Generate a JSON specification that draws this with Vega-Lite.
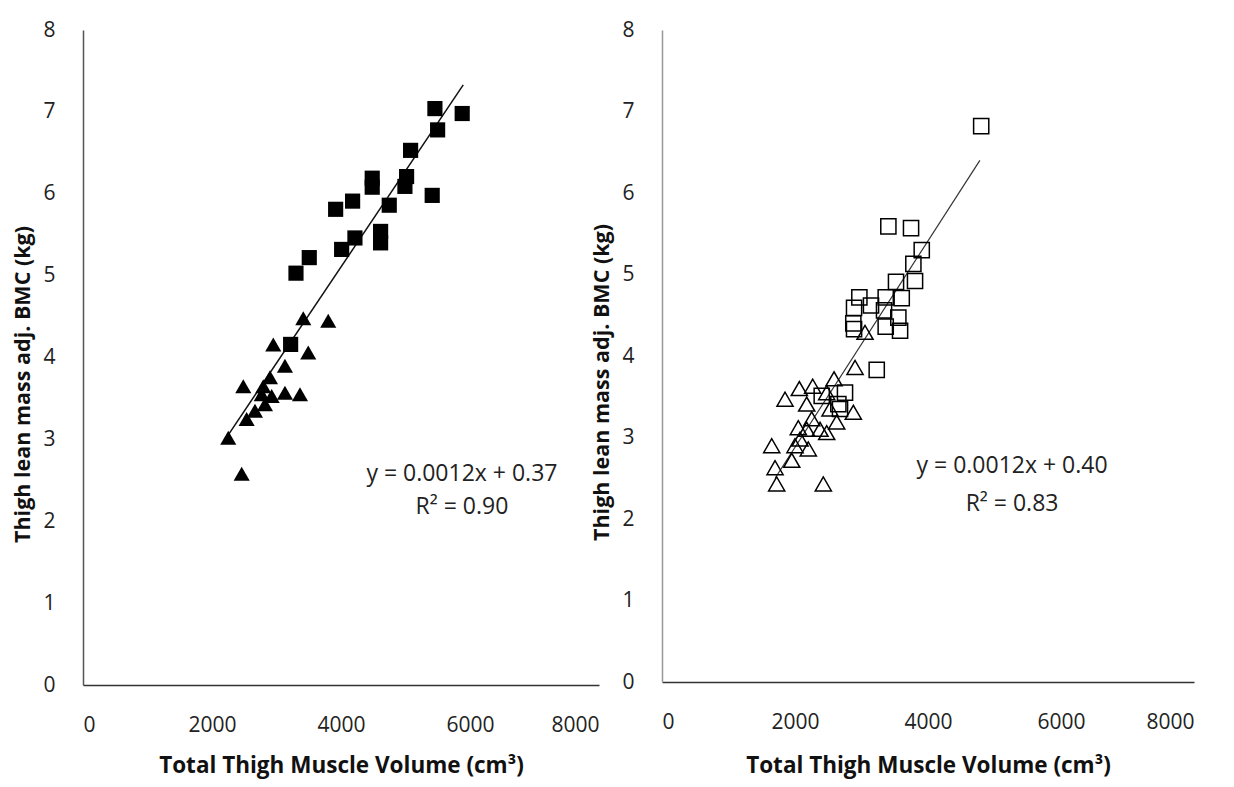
{
  "$schema": "https://vega.github.io/schema/vega-lite/v6.json",
  "background": "white",
  "padding": {"left": 12, "top": 19, "right": 6, "bottom": 5},
  "config": {
    "view": {"stroke": null},
    "axis": {
      "grid": false,
      "ticks": false,
      "tickSize": 0,
      "labelFont": "Open Sans",
      "labelFontSize": 21,
      "labelColor": "#222",
      "titleFont": "Open Sans",
      "titleFontWeight": "bold",
      "titleColor": "#111",
      "domainWidth": 1.5,
      "format": "d"
    }
  },
  "datasets": {
    "leftPts": [
      {"group": "square", "x": 5456, "y": 7.04},
      {"group": "square", "x": 5879, "y": 6.98},
      {"group": "square", "x": 5498, "y": 6.78},
      {"group": "square", "x": 5079, "y": 6.53},
      {"group": "square", "x": 4484, "y": 6.19},
      {"group": "square", "x": 4484, "y": 6.08},
      {"group": "square", "x": 5017, "y": 6.21},
      {"group": "square", "x": 4991, "y": 6.09},
      {"group": "square", "x": 5414, "y": 5.98},
      {"group": "square", "x": 4180, "y": 5.91},
      {"group": "square", "x": 3917, "y": 5.81},
      {"group": "square", "x": 4748, "y": 5.86},
      {"group": "square", "x": 4216, "y": 5.46},
      {"group": "square", "x": 4614, "y": 5.54},
      {"group": "square", "x": 4614, "y": 5.40},
      {"group": "square", "x": 4010, "y": 5.32},
      {"group": "square", "x": 3508, "y": 5.22},
      {"group": "square", "x": 3302, "y": 5.03},
      {"group": "square", "x": 3219, "y": 4.16},
      {"group": "triangle", "x": 3415, "y": 4.48},
      {"group": "triangle", "x": 3802, "y": 4.45},
      {"group": "triangle", "x": 2950, "y": 4.16},
      {"group": "triangle", "x": 3492, "y": 4.06},
      {"group": "triangle", "x": 3131, "y": 3.90},
      {"group": "triangle", "x": 2899, "y": 3.76},
      {"group": "triangle", "x": 2485, "y": 3.65},
      {"group": "triangle", "x": 2795, "y": 3.65},
      {"group": "triangle", "x": 2770, "y": 3.55},
      {"group": "triangle", "x": 2925, "y": 3.53},
      {"group": "triangle", "x": 3131, "y": 3.57},
      {"group": "triangle", "x": 3364, "y": 3.55},
      {"group": "triangle", "x": 2821, "y": 3.43},
      {"group": "triangle", "x": 2666, "y": 3.35},
      {"group": "triangle", "x": 2537, "y": 3.25},
      {"group": "triangle", "x": 2252, "y": 3.02},
      {"group": "triangle", "x": 2460, "y": 2.58}
    ],
    "rightPts": [
      {"group": "square", "x": 4800, "y": 6.82},
      {"group": "square", "x": 3404, "y": 5.59},
      {"group": "square", "x": 3745, "y": 5.57},
      {"group": "square", "x": 3906, "y": 5.30},
      {"group": "square", "x": 3780, "y": 5.13},
      {"group": "square", "x": 3805, "y": 4.92},
      {"group": "square", "x": 3519, "y": 4.91},
      {"group": "square", "x": 3605, "y": 4.71},
      {"group": "square", "x": 3364, "y": 4.72},
      {"group": "square", "x": 2968, "y": 4.72},
      {"group": "square", "x": 3143, "y": 4.62},
      {"group": "square", "x": 2888, "y": 4.59},
      {"group": "square", "x": 3339, "y": 4.56},
      {"group": "square", "x": 3554, "y": 4.47},
      {"group": "square", "x": 2877, "y": 4.40},
      {"group": "square", "x": 3364, "y": 4.36},
      {"group": "square", "x": 3580, "y": 4.31},
      {"group": "square", "x": 2888, "y": 4.33},
      {"group": "square", "x": 3229, "y": 3.83},
      {"group": "square", "x": 2752, "y": 3.55},
      {"group": "square", "x": 2402, "y": 3.51},
      {"group": "square", "x": 2652, "y": 3.41},
      {"group": "square", "x": 2677, "y": 3.35},
      {"group": "triangle", "x": 3053, "y": 4.29},
      {"group": "triangle", "x": 2903, "y": 3.86},
      {"group": "triangle", "x": 2587, "y": 3.72},
      {"group": "triangle", "x": 2266, "y": 3.63},
      {"group": "triangle", "x": 2065, "y": 3.60},
      {"group": "triangle", "x": 1850, "y": 3.47},
      {"group": "triangle", "x": 2477, "y": 3.55},
      {"group": "triangle", "x": 2176, "y": 3.41},
      {"group": "triangle", "x": 2877, "y": 3.31},
      {"group": "triangle", "x": 2527, "y": 3.35},
      {"group": "triangle", "x": 2251, "y": 3.23},
      {"group": "triangle", "x": 2176, "y": 3.10},
      {"group": "triangle", "x": 2376, "y": 3.10},
      {"group": "triangle", "x": 2627, "y": 3.19},
      {"group": "triangle", "x": 2477, "y": 3.06},
      {"group": "triangle", "x": 2200, "y": 2.86},
      {"group": "triangle", "x": 2000, "y": 2.90},
      {"group": "triangle", "x": 1650, "y": 2.90},
      {"group": "triangle", "x": 1951, "y": 2.72},
      {"group": "triangle", "x": 1700, "y": 2.63},
      {"group": "triangle", "x": 1725, "y": 2.43},
      {"group": "triangle", "x": 2426, "y": 2.43},
      {"group": "triangle", "x": 2076, "y": 2.98},
      {"group": "triangle", "x": 2050, "y": 3.12}
    ],
    "leftLine": [{"x": 2180, "y": 2.97}, {"x": 5895, "y": 7.33}],
    "rightLine": [{"x": 1700, "y": 2.50}, {"x": 4780, "y": 6.40}],
    "leftText": [
      {"x": 5875, "y": 2.58, "label": "y = 0.0012x + 0.37"},
      {"x": 5875, "y": 2.17, "label": "R² = 0.90"}
    ],
    "rightText": [
      {"x": 5264, "y": 2.65, "label": "y = 0.0012x + 0.40"},
      {"x": 5264, "y": 2.18, "label": "R² = 0.83"}
    ]
  },
  "hconcat": [
    {
      "width": 516,
      "height": 655,
      "encoding": {
        "x": {"field": "x", "type": "quantitative", "scale": {"domain": [0, 8000], "nice": false, "zero": true},
          "axis": {"values": [0, 2000, 4000, 6000, 8000], "title": "Total Thigh Muscle Volume (cm³)", "titleFontSize": 22.5, "labelPadding": 29, "titlePadding": 19, "domainColor": "#333"}},
        "y": {"field": "y", "type": "quantitative", "scale": {"domain": [0, 8], "nice": false},
          "axis": {"values": [0, 1, 2, 3, 4, 5, 6, 7, 8], "title": "Thigh lean mass adj. BMC (kg)", "titleFontSize": 21.5, "titleY": 354, "labelPadding": 28, "titlePadding": 8, "domainColor": "#555"}}
      },
      "layer": [
        {
          "data": {"name": "leftLine"},
          "mark": {"type": "line", "color": "#111", "strokeWidth": 1.5}
        },
        {
          "data": {"name": "leftPts"},
          "mark": {"type": "point", "filled": true, "color": "#000", "opacity": 1},
          "encoding": {
            "shape": {"field": "group", "type": "nominal", "scale": {"domain": ["square", "triangle"], "range": ["square", "triangle-up"]}, "legend": null},
            "size": {"field": "group", "type": "nominal", "scale": {"domain": ["square", "triangle"], "range": [230, 260]}, "legend": null}
          }
        },
        {
          "data": {"name": "leftText"},
          "mark": {"type": "text", "font": "Open Sans", "fontSize": 23, "color": "#222", "align": "center", "baseline": "middle"},
          "encoding": {"text": {"field": "label"}}
        }
      ]
    },
    {
      "width": 532,
      "height": 652,
      "encoding": {
        "x": {"field": "x", "type": "quantitative", "scale": {"domain": [0, 8000], "nice": false, "zero": true},
          "axis": {"values": [0, 2000, 4000, 6000, 8000], "title": "Total Thigh Muscle Volume (cm³)", "titleFontSize": 22.5, "labelPadding": 29, "titlePadding": 22, "domainColor": "#333"}},
        "y": {"field": "y", "type": "quantitative", "scale": {"domain": [0, 8], "nice": false},
          "axis": {"values": [0, 1, 2, 3, 4, 5, 6, 7, 8], "title": "Thigh lean mass adj. BMC (kg)", "titleFontSize": 21.5, "titleY": 352, "labelPadding": 28, "titlePadding": 8, "domainColor": "#999"}}
      },
      "layer": [
        {
          "data": {"name": "rightLine"},
          "mark": {"type": "line", "color": "#333", "strokeWidth": 1.2}
        },
        {
          "data": {"name": "rightPts"},
          "mark": {"type": "point", "filled": false, "color": "#000", "strokeWidth": 1.5, "opacity": 1},
          "encoding": {
            "shape": {"field": "group", "type": "nominal", "scale": {"domain": ["square", "triangle"], "range": ["square", "triangle-up"]}, "legend": null},
            "size": {"field": "group", "type": "nominal", "scale": {"domain": ["square", "triangle"], "range": [250, 270]}, "legend": null}
          }
        },
        {
          "data": {"name": "rightText"},
          "mark": {"type": "text", "font": "Open Sans", "fontSize": 23, "color": "#222", "align": "center", "baseline": "middle"},
          "encoding": {"text": {"field": "label"}}
        }
      ]
    }
  ],
  "bounds": "flush",
  "spacing": 63
}
